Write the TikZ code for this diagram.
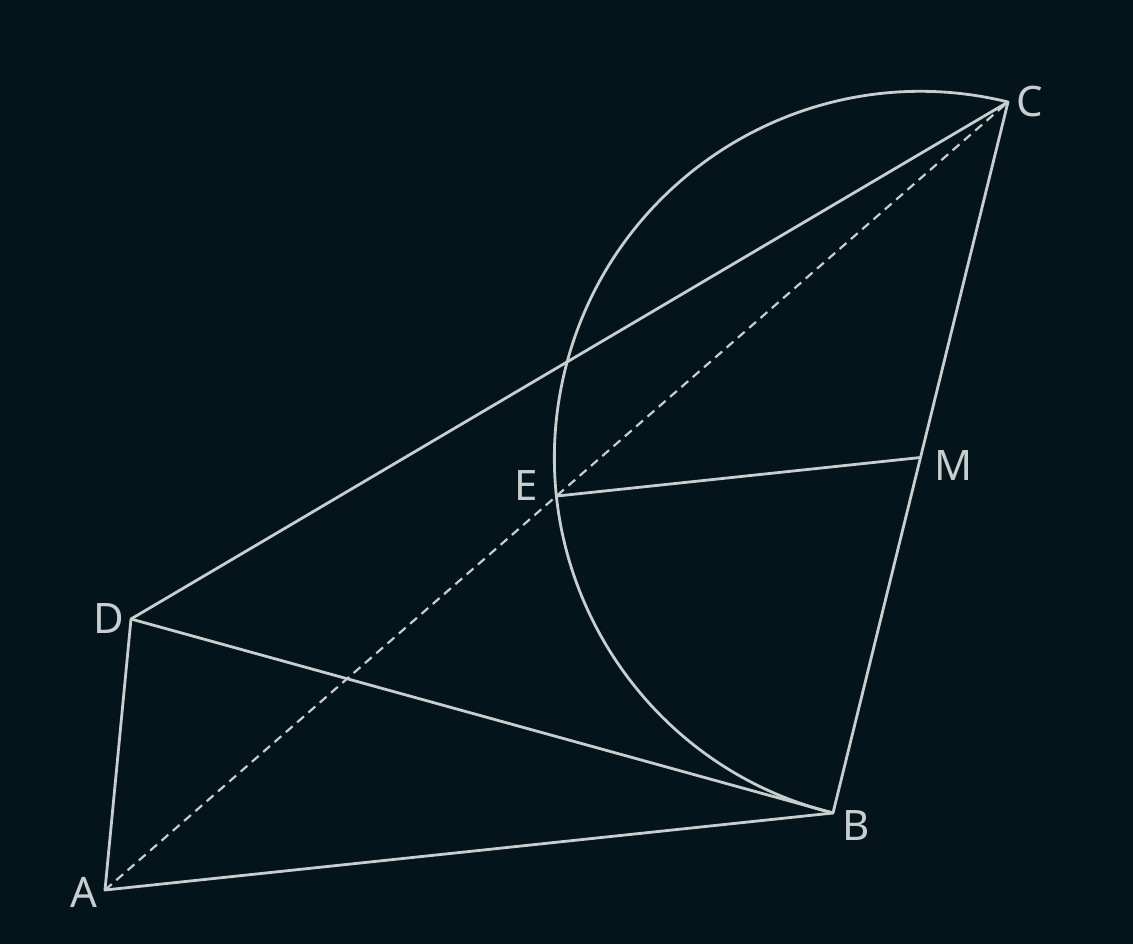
\documentclass[tikz,border=0pt]{standalone}
\usepackage{fontspec}
\setmainfont{Noto Sans}
\usetikzlibrary{calc}

\definecolor{bgdark}{RGB}{3,21,26}
\definecolor{chalk}{RGB}{200,205,206}

\begin{document}
\begin{tikzpicture}[
                x = 0.5pt, y = 0.5pt, % one unit = one pixel of the sketch
                line join = round,
                semithick
        ]

        \tikzset{
            seg/.style = {draw = chalk, line width = 1.4pt},
            hidden/.style = {draw = chalk, line width = 1.1pt, dash pattern = on 4.5pt off 3pt},
            lbl/.style = {text = chalk, inner sep = 0pt, font = \fontsize{21}{25}\selectfont}
        }

        \fill[bgdark] (0,0) rectangle (1133,944);
        \useasboundingbox (0,0) rectangle (1133,944);

        \coordinate (A) at (105,54);
        \coordinate (B) at (833,131);
        \coordinate (C) at (1008,842);
        \coordinate (D) at (131,325);
        \coordinate (M) at ($(B)!0.5!(C)$);
        \coordinate (E) at ($(A)!(B)!(C)$);

        % semicircle on BC
        \draw[seg] let \p1 = ($(C)-(M)$), \n1 = {atan2(\y1,\x1)}, \n2 = {veclen(\x1,\y1)}
            in (C) arc[start angle = \n1, delta angle = 180, radius = \n2];

        \draw[hidden] (A) -- (C);
        \draw[seg] (A) -- (B) -- (C) -- (D) -- cycle;
        \draw[seg] (D) -- (B);
        \draw[seg] (E) -- (M);

        \node[lbl] (lA) at ($(A)+(-21,-2)$) {A};
        \node[lbl] (lB) at ($(B)+(23,-12)$) {B};
        \node[lbl] (lC) at ($(C)+(22,0)$) {C};
        \node[lbl] (lD) at ($(D)+(-22,1)$) {D};
        \node[lbl] (lE) at ($(E)+(-30,11)$) {E};
        \node[lbl] (lM) at ($(M)+(33,-8)$) {M};

        \end{tikzpicture}
\end{document}
